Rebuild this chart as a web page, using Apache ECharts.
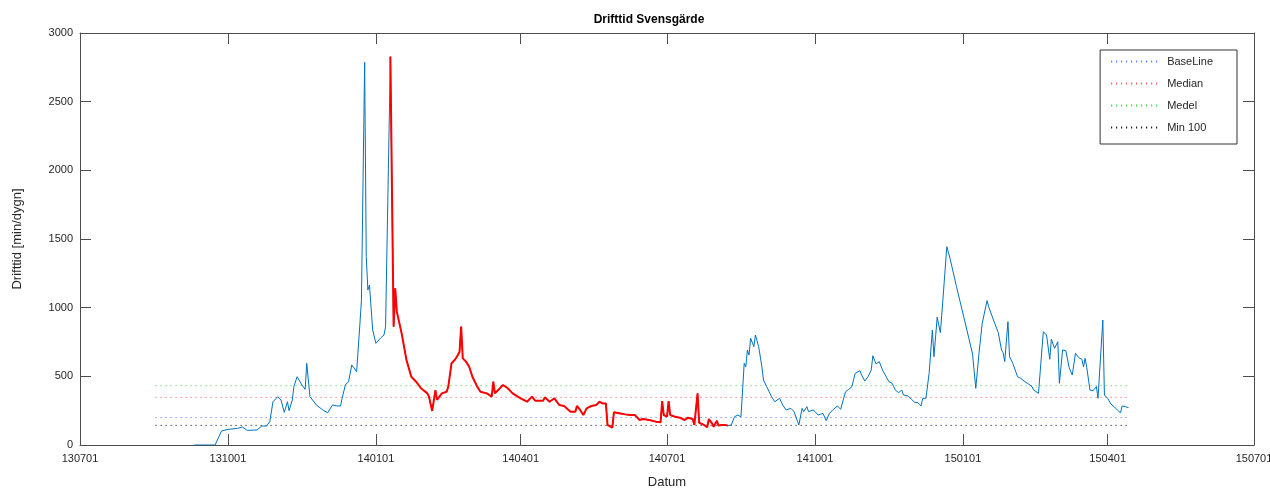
<!DOCTYPE html>
<html>
<head>
<meta charset="utf-8">
<title>Drifttid Svensgärde</title>
<script src="https://cdn.jsdelivr.net/npm/echarts@6/dist/echarts.min.js"></script>
<style>
  html, body { margin: 0; padding: 0; background: #fff; }
  #chart { width: 1270px; height: 488px; }
</style>
</head>
<body>
<div id="chart"></div>
<script>
// datum (YYMMDD) och drifttid [min/dygn]
const dates = [
  '130910','130918','130923','130927','131001','131007','131010','131013','131019','131022',
  '131025','131027','131029','131101','131103','131105','131107','131108','131110','131111',
  '131113','131116','131118','131119','131121','131125','131129','131202','131205','131208',
  '131210','131211','131213','131215','131217','131220','131222','131223','131225','131226',
  '131227','131228','131230','140101','140104','140106','140107','140110','140112','140113',
  '140114','140115','140117','140120','140123','140126','140129','140202','140203','140205',
  '140207','140208','140211','140214','140215','140217','140219','140221','140222','140223',
  '140224','140226','140227','140228','140302','140305','140307','140311','140314','140315',
  '140316','140318','140321','140324','140327','140401','140405','140408','140410','140415',
  '140416','140419','140422','140425','140428','140502','140505','140506','140508','140510',
  '140512','140515','140518','140520','140522','140524','140525','140528','140529','140602',
  '140605','140608','140611','140614','140616','140620','140624','140627','140628','140629',
  '140701','140702','140703','140706','140709','140712','140714','140717','140718','140720',
  '140721','140724','140726','140727','140729','140730','140801','140802','140804','140806',
  '140808','140810','140812','140814','140816','140818','140819','140820','140821','140822',
  '140824','140825','140827','140829','140830','140901','140904','140906','140909','140911',
  '140913','140916','140918','140921','140923','140924','140926','140927','140930','141003',
  '141006','141008','141010','141012','141015','141017','141020','141022','141024','141026',
  '141029','141030','141101','141103','141105','141106','141108','141110','141112','141116',
  '141118','141120','141122','141124','141125','141128','141130','141202','141204','141206',
  '141207','141209','141211','141213','141214','141216','141218','141220','141222','141224',
  '141228','150102','150107','150109','150111','150113','150114','150116','150117','150120',
  '150123','150125','150126','150127','150129','150130','150201','150204','150206','150208',
  '150211','150213','150214','150217','150220','150222','150224','150225','150227','150301',
  '150302','150304','150306','150308','150310','150312','150314','150316','150317','150318',
  '150319','150321','150323','150325','150326','150329','150330','150401','150403','150405',
  '150407','150409','150410','150412','150414'
]
const drifttid = [
  0, 0, 0, 102, 114, 121, 131, 107, 109, 138,
  138, 170, 315, 352, 328, 238, 315, 250, 328, 425,
  497, 437, 405, 595, 352, 291, 255, 235, 291, 284,
  284, 340, 437, 461, 583, 534, 874, 1056, 2787, 1371,
  1129, 1165, 837, 740, 780, 800, 860, 2828, 862, 1141,
  971, 959, 813, 619, 497, 461, 413, 376, 352, 248,
  400, 328, 376, 388, 425, 595, 619, 655, 679, 862,
  631, 607, 619, 570, 497, 425, 388, 376, 352, 461,
  376, 400, 437, 413, 376, 340, 315, 352, 323, 323,
  347, 315, 340, 291, 284, 243, 243, 284, 255, 218,
  267, 284, 291, 315, 303, 303, 146, 126, 238, 230,
  223, 218, 218, 182, 189, 182, 170, 165, 320, 218,
  206, 320, 218, 206, 199, 182, 199, 189, 146, 376,
  162, 146, 129, 189, 158, 133, 177, 141, 146, 146,
  141, 146, 206, 218, 206, 595, 570, 692, 655, 777,
  716, 801, 716, 570, 473, 425, 352, 315, 340, 291,
  255, 267, 243, 146, 267, 243, 279, 243, 255, 218,
  230, 177, 230, 255, 284, 260, 388, 405, 425, 522,
  541, 510, 466, 497, 546, 650, 590, 607, 546, 461,
  449, 400, 381, 400, 364, 357, 333, 311, 308, 284,
  340, 340, 522, 837, 643, 930, 818, 1129, 1444, 1359,
  1153, 910, 663, 413, 668, 886, 874, 1051, 1007, 910,
  818, 692, 672, 607, 898, 643, 595, 497, 485, 466,
  442, 425, 400, 376, 825, 801, 624, 770, 704, 752,
  449, 692, 687, 566, 510, 668, 636, 624, 570, 631,
  566, 400, 396, 425, 340, 910, 364, 340, 299, 279,
  255, 235, 284, 279, 272
]

// röd markerad period
const redFrom = '140110'
const redTo = '140808'

// referensnivåer
const refNames = ['BaseLine', 'Median', 'Medel', 'Min 100']
const refValues = [200, 347, 432, 143]
const refColors = ['#4070ff', '#ff4a4a', '#2fd02f', '#000000']
const refFrom = '130817'
const refTo = '150414'

const tickLabels = ['130701', '131001', '140101', '140401', '140701', '141001', '150101', '150401', '150701']
const yTicks = [0, 500, 1000, 1500, 2000, 2500, 3000]

// dagar sedan 130701
const toDay = (s) => {
  const yy = 2000 + parseInt(s.slice(0, 2), 10)
  const mm = parseInt(s.slice(2, 4), 10) - 1
  const dd = parseInt(s.slice(4, 6), 10)
  return (Date.UTC(yy, mm, dd) - Date.UTC(2013, 6, 1)) / 86400000
}

const tickDays = tickLabels.map(toDay)
const blueData = dates.map((d, i) => [toDay(d), drifttid[i]])
const redData = dates
  .map((d, i) => [d, drifttid[i]])
  .filter(p => p[0] >= redFrom && p[0] <= redTo)
  .map(p => [toDay(p[0]), p[1]])

const font = 'Liberation Sans, Arial, Helvetica, sans-serif'
const axisColor = '#4d4d4d'
const textColor = '#262626'

const chart = echarts.init(document.getElementById('chart'))

const refSeries = refNames.map((name, i) => ({
  name: name,
  type: 'line',
  data: [[toDay(refFrom), refValues[i]], [toDay(refTo), refValues[i]]],
  symbol: 'none',
  silent: true,
  lineStyle: { color: refColors[i], width: 1, type: [1, 4] },
  itemStyle: { color: refColors[i] },
  z: 1
}))

const labelFor = (v) => {
  const idx = tickDays.indexOf(v)
  return idx >= 0 ? tickLabels[idx] : ''
}

const option = {
  backgroundColor: '#fff',
  animation: false,
  textStyle: { fontFamily: font },
  title: {
    text: 'Drifttid Svensgärde',
    left: 644,
    top: 9,
    textAlign: 'center',
    textStyle: { fontSize: 12, fontWeight: 'bold', color: '#000', fontFamily: font }
  },
  legend: {
    data: refNames,
    orient: 'vertical',
    right: 33,
    top: 50,
    padding: [6, 24, 11, 10],
    itemWidth: 47,
    itemHeight: 10,
    itemGap: 11,
    backgroundColor: '#fff',
    borderColor: '#333',
    borderWidth: 1,
    borderRadius: 0,
    z: 10,
    itemStyle: { opacity: 0 },
    textStyle: { fontSize: 11, color: textColor, fontFamily: font, padding: [0, 0, 0, 4] }
  },
  grid: {
    left: 80,
    right: 16,
    top: 33,
    bottom: 43,
    containLabel: false,
    outerBoundsMode: 'none',
    show: false
  },
  xAxis: [
    {
      type: 'value',
      min: 0,
      max: toDay('150701'),
      name: 'Datum',
      nameLocation: 'middle',
      nameGap: 31,
      nameTextStyle: { fontSize: 13, color: textColor, fontFamily: font },
      axisLine: { lineStyle: { color: axisColor, width: 1 } },
      axisTick: { inside: true, length: 11, customValues: tickDays, lineStyle: { color: axisColor } },
      axisLabel: {
        customValues: tickDays,
        formatter: labelFor,
        fontSize: 11,
        color: textColor,
        margin: 8,
        fontFamily: font
      },
      splitLine: { show: false }
    },
    {
      type: 'value',
      position: 'top',
      min: 0,
      max: toDay('150701'),
      axisLine: { onZero: false, lineStyle: { color: axisColor, width: 1 } },
      axisTick: { inside: true, length: 11, customValues: tickDays, lineStyle: { color: axisColor } },
      axisLabel: { show: false },
      splitLine: { show: false }
    }
  ],
  yAxis: [
    {
      type: 'value',
      min: 0,
      max: 3000,
      interval: 500,
      name: 'Drifttid [min/dygn]',
      nameLocation: 'middle',
      nameGap: 56,
      nameTextStyle: { fontSize: 13, color: textColor, fontFamily: font },
      axisLine: { show: true, lineStyle: { color: axisColor, width: 1 } },
      axisTick: { show: true, inside: true, length: 11, lineStyle: { color: axisColor } },
      axisLabel: {
        fontSize: 11,
        color: textColor,
        margin: 7,
        fontFamily: font,
        formatter: (v) => yTicks.includes(v) ? String(v) : ''
      },
      splitLine: { show: false }
    },
    {
      type: 'value',
      position: 'right',
      min: 0,
      max: 3000,
      interval: 500,
      axisLine: { show: true, onZero: false, lineStyle: { color: axisColor, width: 1 } },
      axisTick: { show: true, inside: true, length: 11, lineStyle: { color: axisColor } },
      axisLabel: { show: false },
      splitLine: { show: false }
    }
  ],
  series: [
    ...refSeries,
    {
      name: 'Drifttid',
      type: 'line',
      data: blueData,
      symbol: 'none',
      lineStyle: { color: '#0072bd', width: 1 },
      itemStyle: { color: '#0072bd' },
      z: 3
    },
    {
      name: 'Markerad',
      type: 'line',
      data: redData,
      symbol: 'none',
      lineStyle: { color: '#ff0000', width: 2 },
      itemStyle: { color: '#ff0000' },
      z: 4
    }
  ]
}

chart.setOption(option)
</script>
</body>
</html>
